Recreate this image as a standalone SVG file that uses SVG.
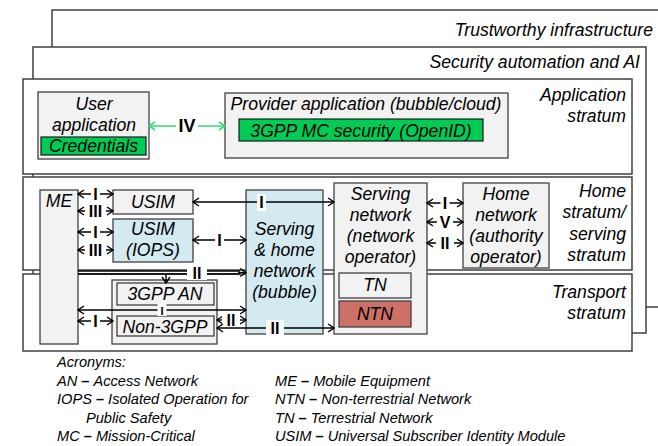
<svg xmlns="http://www.w3.org/2000/svg" width="658" height="446" viewBox="0 0 658 446">
<style>
.frame{fill:#fff;stroke:#404040;stroke-width:1.5}
.box{fill:#f2f2f2;stroke:#404040;stroke-width:1.3}
.blue{fill:#d4eaf1;stroke:#404040;stroke-width:1.3}
.green{fill:#00cc55;stroke:#1a1a1a;stroke-width:1.2}
.red{fill:#cd7068;stroke:#404040;stroke-width:1.3}
text{font-family:"Liberation Sans",Arial,sans-serif;fill:#000}
.t{font-style:italic;font-size:17.6px}
.c{text-anchor:middle}
.r{text-anchor:end}
.lbl{font-weight:bold;font-size:16px;text-anchor:middle}
.ac{font-style:italic;font-size:14.6px}
.ac tspan.d{font-weight:bold;font-style:normal}
.ln{stroke:#000;stroke-width:1.4;fill:none}
.gl{stroke:#33dd77;stroke-width:1.6;fill:none}
.bg{fill:#fff}
</style>
<defs>
<marker id="a" viewBox="0 0 8 10" refX="7" refY="5" markerWidth="8" markerHeight="10" markerUnits="userSpaceOnUse" orient="auto-start-reverse"><path d="M1,1 L7,5 L1,9" fill="none" stroke="#000" stroke-width="1.4"/></marker>
<marker id="g" viewBox="0 0 8 10" refX="7" refY="5" markerWidth="8" markerHeight="10" markerUnits="userSpaceOnUse" orient="auto-start-reverse"><path d="M1,1 L7,5 L1,9" fill="none" stroke="#33dd77" stroke-width="1.6"/></marker>
</defs>

<g id="trustworthy">
<rect class="frame" x="52" y="10" width="620" height="297"/>
<text class="t r" x="653" y="36">Trustworthy infrastructure</text>
</g>
<g id="security">
<rect class="frame" x="33" y="47" width="613" height="286"/>
<text class="t r" x="640" y="68">Security automation and AI</text>
</g>
<g id="application-stratum">
<rect class="frame" x="23" y="79" width="609" height="95"/>
<text class="t r" x="626" y="101">Application</text>
<text class="t r" x="626" y="122">stratum</text>
</g>
<g id="home-stratum">
<rect class="frame" x="23" y="177" width="609" height="93"/>
<text class="t r" x="626" y="197">Home</text>
<text class="t r" x="626" y="218">stratum/</text>
<text class="t r" x="626" y="240">serving</text>
<text class="t r" x="626" y="261">stratum</text>
</g>
<g id="transport-stratum">
<rect class="frame" x="23" y="274" width="609" height="77"/>
<text class="t r" x="626" y="298">Transport</text>
<text class="t r" x="626" y="319">stratum</text>
</g>

<g id="user-application">
<rect class="box" x="38" y="92" width="111" height="67"/>
<text class="t c" x="94" y="110">User</text>
<text class="t c" x="94" y="131">application</text>
<rect class="green" x="41" y="137" width="105" height="18"/>
<text class="t c" x="93.5" y="152">Credentials</text>
</g>
<g id="provider-application">
<rect class="box" x="225" y="93" width="283" height="65"/>
<text class="t c" x="366" y="110">Provider application (bubble/cloud)</text>
<rect class="green" x="239" y="119" width="244" height="22"/>
<text class="t c" x="361" y="137">3GPP MC security (OpenID)</text>
</g>

<g id="me">
<rect class="box" x="40" y="190" width="38" height="154"/>
<text class="t c" x="59" y="207">ME</text>
</g>
<g id="usim">
<rect class="box" x="113" y="190" width="80" height="24"/>
<text class="t c" x="153" y="208">USIM</text>
</g>
<g id="usim-iops">
<rect class="blue" x="113" y="219" width="80" height="43"/>
<text class="t c" x="153" y="235">USIM</text>
<text class="t c" x="153" y="256">(IOPS)</text>
</g>
<g id="serving-home-network">
<rect class="blue" x="246" y="190" width="77" height="144"/>
<text class="t c" x="284.5" y="235">Serving</text>
<text class="t c" x="284.5" y="256">&amp; home</text>
<text class="t c" x="284.5" y="277">network</text>
<text class="t c" x="284.5" y="298">(bubble)</text>
</g>
<g id="serving-network">
<rect class="box" x="334" y="183" width="93" height="151"/>
<text class="t c" x="380.5" y="200">Serving</text>
<text class="t c" x="380.5" y="221">network</text>
<text class="t c" x="380.5" y="242">(network</text>
<text class="t c" x="380.5" y="263">operator)</text>
</g>
<g id="tn">
<rect class="box" x="339" y="273" width="72" height="25"/>
<text class="t c" x="375" y="291">TN</text>
</g>
<g id="ntn">
<rect class="red" x="339" y="301" width="72" height="26"/>
<text class="t c" x="375" y="319.5">NTN</text>
</g>
<g id="home-network">
<rect class="box" x="463" y="183" width="86" height="85"/>
<text class="t c" x="506" y="200">Home</text>
<text class="t c" x="506" y="221">network</text>
<text class="t c" x="506" y="242">(authority</text>
<text class="t c" x="506" y="263">operator)</text>
</g>
<g id="access-network">
<rect class="box" x="112" y="280" width="105" height="64"/>
<rect class="box" x="117" y="283" width="97" height="22"/>
<text class="t c" x="165" y="299.5">3GPP AN</text>
<rect class="box" x="117" y="316" width="97" height="20"/>
<text class="t c" x="165" y="333">Non-3GPP</text>
</g>

<g id="connectors">
<line class="gl" x1="149" y1="126" x2="225" y2="126" marker-start="url(#g)" marker-end="url(#g)"/>
<rect class="bg" x="176" y="117" width="22" height="16"/>
<text class="lbl" x="187" y="132" style="font-size:18px">IV</text>

<line class="ln" x1="78" y1="194" x2="113" y2="194" marker-start="url(#a)" marker-end="url(#a)"/>
<rect class="bg" x="91" y="187" width="9" height="14"/>
<text class="lbl" x="95.5" y="200">I</text>
<line class="ln" x1="78" y1="211" x2="113" y2="211" marker-start="url(#a)" marker-end="url(#a)"/>
<rect class="bg" x="85" y="204" width="21" height="14"/>
<text class="lbl" x="95.5" y="217">III</text>
<line class="ln" x1="78" y1="232" x2="113" y2="232" marker-start="url(#a)" marker-end="url(#a)"/>
<rect class="bg" x="91" y="225" width="9" height="14"/>
<text class="lbl" x="95.5" y="238">I</text>
<line class="ln" x1="78" y1="250" x2="113" y2="250" marker-start="url(#a)" marker-end="url(#a)"/>
<rect class="bg" x="85" y="243" width="21" height="14"/>
<text class="lbl" x="95.5" y="256">III</text>

<line class="ln" x1="193" y1="202" x2="334" y2="202" marker-start="url(#a)" marker-end="url(#a)"/>
<rect class="bg" x="257" y="194" width="9" height="17"/>
<text class="lbl" x="261.5" y="208">I</text>
<line class="ln" x1="193" y1="240" x2="246" y2="240" marker-start="url(#a)" marker-end="url(#a)"/>
<rect class="bg" x="215" y="233" width="9" height="14"/>
<text class="lbl" x="219.5" y="246">I</text>

<line class="ln" x1="78" y1="271" x2="240" y2="271"/>
<line class="ln" x1="78" y1="274" x2="240" y2="274"/>
<line class="ln" x1="238" y1="272.5" x2="246" y2="272.5" marker-end="url(#a)"/>
<line class="ln" x1="166" y1="274" x2="166" y2="283" marker-end="url(#a)"/>
<rect class="bg" x="187" y="265" width="20" height="15"/>
<text class="lbl" x="197" y="278.5">II</text>

<line class="ln" x1="427" y1="203" x2="463" y2="203" marker-start="url(#a)" marker-end="url(#a)"/>
<rect class="bg" x="440.5" y="196" width="9" height="14"/>
<text class="lbl" x="445" y="209">I</text>
<line class="ln" x1="427" y1="222" x2="463" y2="222" marker-start="url(#a)" marker-end="url(#a)"/>
<rect class="bg" x="437" y="215" width="16" height="14"/>
<text class="lbl" x="445" y="228">V</text>
<line class="ln" x1="427" y1="243" x2="463" y2="243" marker-start="url(#a)" marker-end="url(#a)"/>
<rect class="bg" x="436" y="236" width="18" height="14"/>
<text class="lbl" x="445" y="249">II</text>

<line class="ln" x1="78" y1="310" x2="246" y2="310" marker-start="url(#a)" marker-end="url(#a)"/>
<rect class="bg" x="157.5" y="304" width="9" height="12"/>
<text class="lbl" x="162" y="314.5" style="font-size:11px">I</text>
<line class="ln" x1="78" y1="321" x2="113" y2="321" marker-start="url(#a)" marker-end="url(#a)"/>
<rect class="bg" x="91" y="314" width="9" height="14"/>
<text class="lbl" x="95.5" y="327">I</text>
<line class="ln" x1="217" y1="320" x2="246" y2="320" marker-start="url(#a)" marker-end="url(#a)"/>
<rect class="bg" x="222" y="313" width="18" height="14"/>
<text class="lbl" x="231" y="326">II</text>
<line class="ln" x1="217" y1="328" x2="334" y2="328" marker-start="url(#a)" marker-end="url(#a)"/>
<rect class="bg" x="266" y="320" width="18" height="16"/>
<text class="lbl" x="275" y="334">II</text>
</g>

<g id="acronyms">
<text class="ac" x="57" y="367">Acronyms:</text>
<text class="ac" x="57" y="386">AN<tspan class="d"> – </tspan>Access Network</text>
<text class="ac" x="57" y="404">IOPS<tspan class="d"> – </tspan>Isolated Operation for</text>
<text class="ac" x="86" y="423">Public Safety</text>
<text class="ac" x="57" y="441">MC<tspan class="d"> – </tspan>Mission-Critical</text>
<text class="ac" x="275" y="386">ME<tspan class="d"> – </tspan>Mobile Equipment</text>
<text class="ac" x="275" y="404">NTN<tspan class="d"> – </tspan>Non-terrestrial Network</text>
<text class="ac" x="275" y="423">TN<tspan class="d"> – </tspan>Terrestrial Network</text>
<text class="ac" x="275" y="441">USIM<tspan class="d"> – </tspan>Universal Subscriber Identity Module</text>
</g>
</svg>
